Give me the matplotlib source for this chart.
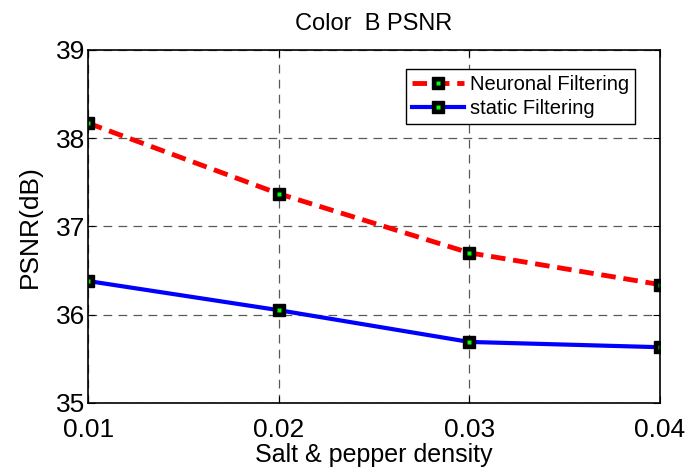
import matplotlib
matplotlib.use("Agg")
import matplotlib.pyplot as plt

density = [0.01, 0.02, 0.03, 0.04]
neuronal = [38.17, 37.37, 36.70, 36.34]
static = [36.38, 36.05, 35.69, 35.63]
xticks = [0.01, 0.02, 0.03, 0.04]
xticklabels = ["0.01", "0.02", "0.03", "0.04"]
yticks = [35, 36, 37, 38, 39]

plt.rcParams['font.family'] = ['Liberation Sans', 'DejaVu Sans']

fig = plt.figure(figsize=(6.99, 4.75), dpi=100)
ax = fig.add_axes([0.126, 0.152, 0.818, 0.743])

mk = dict(marker='s', markersize=8, markerfacecolor='k', markeredgecolor='k', markeredgewidth=1)
ln1, = ax.plot(density, neuronal, color='red', linestyle='--', linewidth=3.5, dashes=(3, 1.6), **mk)
ln2, = ax.plot(density, static, color='blue', linestyle='-', linewidth=3, **mk)
g1, = ax.plot(density, neuronal, linestyle='none', marker='s', markersize=2.2, markerfacecolor='#00ff00', markeredgecolor='none')
g2, = ax.plot(density, static, linestyle='none', marker='s', markersize=2.2, markerfacecolor='#00ff00', markeredgecolor='none')

ax.set_xlim(0.01, 0.04)
ax.set_ylim(35, 39)
ax.set_xticks(xticks)
ax.set_xticklabels(xticklabels)
ax.set_yticks(yticks)
ax.grid(True, color='0.35', linestyle=(0, (7, 5)), linewidth=0.9)
ax.tick_params(direction='in', labelsize=19, top=True, right=True, length=5)
ax.tick_params(axis='x', pad=11)
ax.tick_params(axis='y', pad=2)
for s in ax.spines.values():
    s.set_linewidth(1.2)
ax.set_xlabel('Salt & pepper density', fontsize=18, labelpad=1)
ax.set_ylabel('PSNR(dB)', fontsize=19, labelpad=10)
ax.set_title('Color  B PSNR', fontsize=17, pad=14)
leg = ax.legend([(ln1, g1), (ln2, g2)], ['Neuronal Filtering', 'static Filtering'],
                loc='upper right', fontsize=14.5, fancybox=False, framealpha=1, edgecolor='k',
                handlelength=2.6, borderpad=0.3, labelspacing=0.25, handletextpad=0.3,
                bbox_to_anchor=(0.975, 0.975))
leg.get_frame().set_linewidth(1)

fig.savefig('out.png', dpi=100)
